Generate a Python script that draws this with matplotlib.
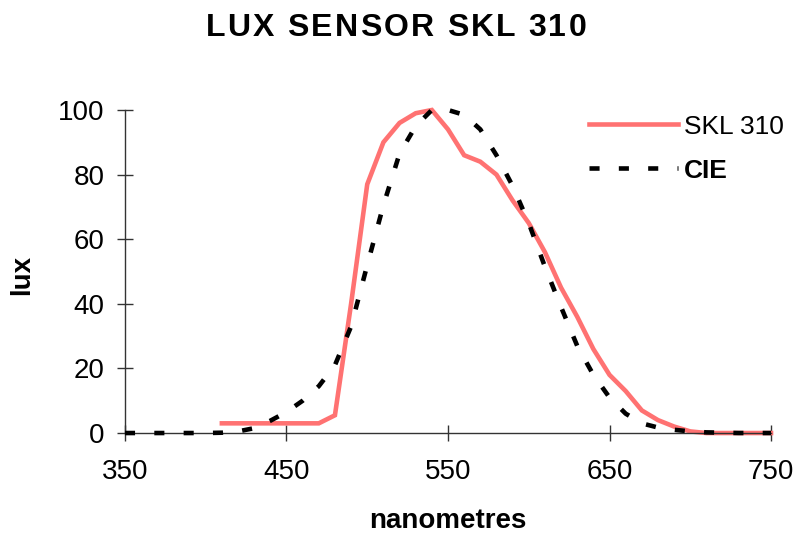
import numpy as np
import matplotlib.pyplot as plt

plt.rcParams['font.family'] = ['Liberation Sans', 'DejaVu Sans']

# SKL 310 sensor response (percent of peak)
skl_nm = [410, 420, 430, 440, 450, 460, 470, 480, 490, 500, 510, 520, 530, 540,
          550, 560, 570, 580, 590, 600, 610, 620, 630, 640, 650, 660, 670, 680,
          690, 700, 710, 720, 730, 740, 750]
skl_lux = [3, 3, 3, 3, 3, 3, 3, 5.5, 40, 77, 90, 96, 99, 100,
           94, 86, 84, 80, 72, 65, 56, 45, 36, 26, 18, 13, 7, 4,
           2, 0.5, 0, 0, 0, 0, 0]

# CIE photopic curve as drawn
cie_nm = [350, 360, 370, 380, 390, 400, 410, 420, 430, 440, 450, 460, 470, 480,
          490, 500, 510, 520, 530, 540, 550, 560, 570, 580, 590, 600, 610, 620,
          630, 640, 650, 660, 670, 680, 690, 700, 710, 720, 730, 740, 750]
cie_lux = [0, 0, 0, 0, 0, 0, 0.1, 0.5, 1.5, 3.8, 6.5, 10, 14.5, 21,
           33, 52, 70.5, 86.5, 95, 100, 100, 98.5, 94, 86, 76.5, 65, 51.5, 39,
           27, 18, 11, 6, 3, 1.7, 1, 0.5, 0.2, 0.1, 0, 0, 0]

title = 'LUX SENSOR SKL 310'

fig = plt.figure(figsize=(7.98, 5.40), dpi=100)
ax = fig.add_axes([0.1566, 0.1981, 0.8096, 0.5982])

ax.plot(skl_nm, skl_lux, color='#ff7272', lw=3.3, label='SKL 310', zorder=2,
        solid_joinstyle='miter', clip_on=False)
ax.plot(cie_nm, cie_lux, color='black', lw=3.3, dashes=(2.2, 4.2),
        dash_capstyle='butt', label='CIE', zorder=3, clip_on=False)

ax.set_xlim(350, 750)
ax.set_ylim(0, 100)
ax.set_xticks(np.arange(350, 751, 100))
ax.set_yticks(np.arange(0, 101, 20))
for s in ['top', 'right']:
    ax.spines[s].set_visible(False)
for s in ['left', 'bottom']:
    ax.spines[s].set_color('#333333')
    ax.spines[s].set_linewidth(1.0)
ax.tick_params(axis='both', direction='inout', length=11, width=1,
               colors='#333333', labelcolor='black', labelsize=20)
ax.tick_params(axis='x', pad=13)
ax.tick_params(axis='y', pad=9)

# title with letter spacing, placed char by char
renderer = fig.canvas.get_renderer()
tracking = 2.2  # px between letters
chars = []
widths = []
for ch in title:
    t = fig.text(0, 0, ch, fontsize=23, fontweight='bold', va='center', ha='left')
    w = t.get_window_extent(renderer).width if ch != ' ' else 0
    if ch == ' ':
        w = fig.text(0, 0, 'a a', fontsize=23, fontweight='bold').get_window_extent(renderer).width
        w2 = fig.text(0, 0, 'aa', fontsize=23, fontweight='bold').get_window_extent(renderer).width
        w = w - w2
        for tt in fig.texts[-2:]:
            tt.remove()
    chars.append(t)
    widths.append(w)
total = sum(widths) + tracking * (len(title) - 1)
x = 396 - total / 2
for t, w in zip(chars, widths):
    t.set_position((x / 798, 1 - 28 / 540))
    x += w + tracking

fig.text(0.0276, 0.491, 'lux', rotation=90, ha='center', va='center',
         fontsize=20, fontweight='bold')
fig.text(0.561, 0.035, 'nanometres', ha='center', va='center',
         fontsize=20, fontweight='bold')

leg = ax.legend(loc='upper left', bbox_to_anchor=(0.722, 0.812),
                bbox_transform=fig.transFigure, frameon=False, fontsize=19,
                handlelength=3.37, handletextpad=0.23, labelspacing=0.75,
                borderpad=0)
leg.get_texts()[1].set_fontweight('bold')

fig.savefig('out.png', dpi=100)
